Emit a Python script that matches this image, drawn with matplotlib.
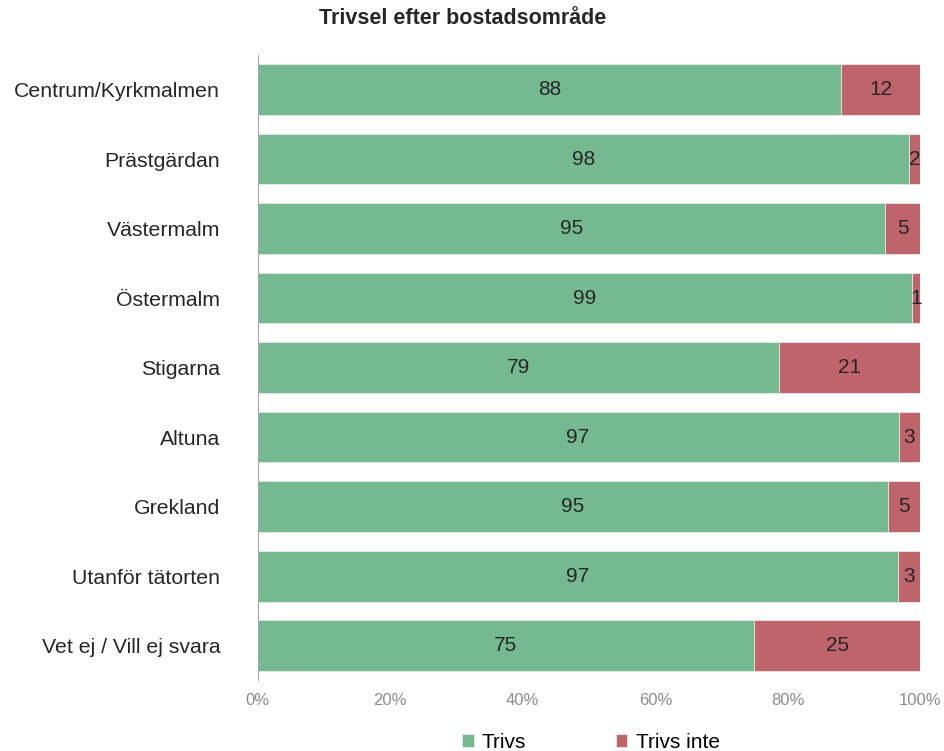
import matplotlib
matplotlib.use('Agg')
import matplotlib.pyplot as plt
from matplotlib.ticker import FuncFormatter

plt.rcParams['font.family'] = ['Liberation Sans', 'DejaVu Sans']

# data (percent)
areas = ['Centrum/Kyrkmalmen', 'Prästgärdan', 'Västermalm', 'Östermalm', 'Stigarna',
         'Altuna', 'Grekland', 'Utanför tätorten', 'Vet ej / Vill ej svara']
trivs = [88.0, 98.3, 94.6, 98.8, 78.6, 96.7, 95.1, 96.6, 74.9]
trivs_inte = [12.0, 1.7, 5.4, 1.2, 21.4, 3.3, 4.9, 3.4, 25.1]
series_names = ['Trivs', 'Trivs inte']
colors = ['#75B990', '#C0646B']

fig = plt.figure(figsize=(9.44, 7.51), dpi=100)
ax = fig.add_axes([0.273, 0.094, 0.702, 0.833])

y = list(range(len(areas)))
b1 = ax.barh(y, trivs, height=0.73, color=colors[0], edgecolor='#e8e8e8', linewidth=0.6, label=series_names[0])
b2 = ax.barh(y, trivs_inte, left=trivs, height=0.73, color=colors[1], edgecolor='#e8e8e8', linewidth=0.6, label=series_names[1])

for vals, lefts in [(trivs, [0] * len(trivs)), (trivs_inte, trivs)]:
    for yi, v, l in zip(y, vals, lefts):
        ax.text(l + v / 2, yi, str(int(round(v))), ha='center', va='center', fontsize=15, color='#262626')

ax.set_xlim(0, 100)
ax.set_ylim(len(areas) - 0.5, -0.5)
ax.set_yticks(y)
ax.set_yticklabels(areas, fontsize=15.3, color='#262626')
ax.set_xticks([0, 20, 40, 60, 80, 100])
ax.xaxis.set_major_formatter(FuncFormatter(lambda v, p: '%d%%' % v))
ax.tick_params(axis='x', length=0, labelsize=12, labelcolor='#8c8c8c', pad=9)
ax.tick_params(axis='y', length=0, pad=27)
for s in ['top', 'right', 'bottom']:
    ax.spines[s].set_visible(False)
ax.spines['left'].set_color('#a6a6a6')
ax.spines['left'].set_linewidth(0.8)

fig.text(0.49, 0.99, 'Trivsel efter bostadsområde', fontsize=15.5, fontweight='bold',
         color='#262626', ha='center', va='top')

leg = fig.legend(loc='lower center', bbox_to_anchor=(0.626, -0.026), ncol=2, frameon=False,
                 fontsize=15, handlelength=0.55, handleheight=0.55, columnspacing=4.3, handletextpad=0.4)

fig.savefig('out.png', dpi=100)
